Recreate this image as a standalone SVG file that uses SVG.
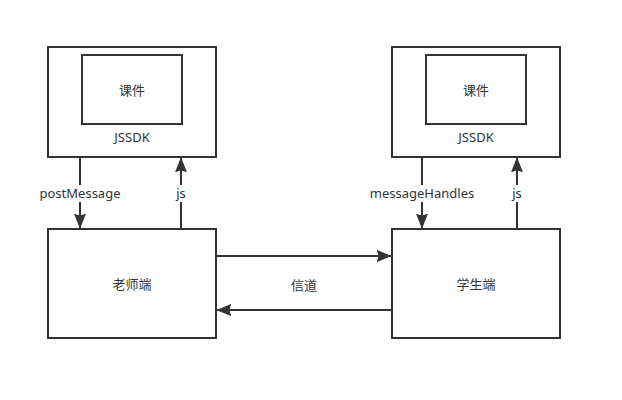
<svg xmlns="http://www.w3.org/2000/svg" width="622" height="400" viewBox="0 0 622 400">
<defs>
<marker id="ah" viewBox="0 0 10 10" refX="9.5" refY="5" markerWidth="15" markerHeight="12" markerUnits="userSpaceOnUse" orient="auto" preserveAspectRatio="none">
<path d="M0,0 L10,5 L0,10 L1.2,5 Z" fill="#333"/>
</marker>
<style>
.b{fill:#fff;stroke:#333;stroke-width:2}
.t{font-family:"Noto Sans","Noto Sans CJK SC",sans-serif;font-size:13px;fill:#333;text-anchor:middle;dominant-baseline:central}
.c{fill:none;stroke:#333;stroke-width:2;marker-end:url(#ah)}
.lb{fill:#fff}
</style>
</defs>
<rect width="622" height="400" fill="#fff"/>
<g id="sdk-left">
<rect class="b" x="48" y="47" width="168" height="110"/>
<text class="t" x="132" y="137">JSSDK</text>
</g>
<g id="course-left">
<rect class="b" x="82" y="55" width="100" height="69"/>
<text class="t" x="132" y="90">课件</text>
</g>
<g id="sdk-right">
<rect class="b" x="392" y="47" width="168" height="110"/>
<text class="t" x="476" y="137">JSSDK</text>
</g>
<g id="course-right">
<rect class="b" x="426" y="55" width="100" height="69"/>
<text class="t" x="476" y="90">课件</text>
</g>
<g id="teacher">
<rect class="b" x="48" y="229" width="168" height="109"/>
<text class="t" x="132" y="284">老师端</text>
</g>
<g id="student">
<rect class="b" x="392" y="229" width="168" height="109"/>
<text class="t" x="476" y="284">学生端</text>
</g>
<g id="connectors">
<path class="c" d="M80,157 L80,228"/>
<rect class="lb" x="36" y="185" width="88" height="17"/>
<text class="t" x="80" y="193">postMessage</text>
<path class="c" d="M181,229 L181,158"/>
<rect class="lb" x="174" y="185" width="14" height="17"/>
<text class="t" x="181" y="193">js</text>
<path class="c" d="M422,157 L422,228"/>
<rect class="lb" x="370" y="185" width="104" height="17"/>
<text class="t" x="422" y="193">messageHandles</text>
<path class="c" d="M517,229 L517,158"/>
<rect class="lb" x="510" y="185" width="14" height="17"/>
<text class="t" x="517" y="193">js</text>
<path class="c" d="M216,256 L391,256"/>
<path class="c" d="M392,310 L217,310"/>
<text class="t" x="304" y="285">信道</text>
</g>
</svg>
